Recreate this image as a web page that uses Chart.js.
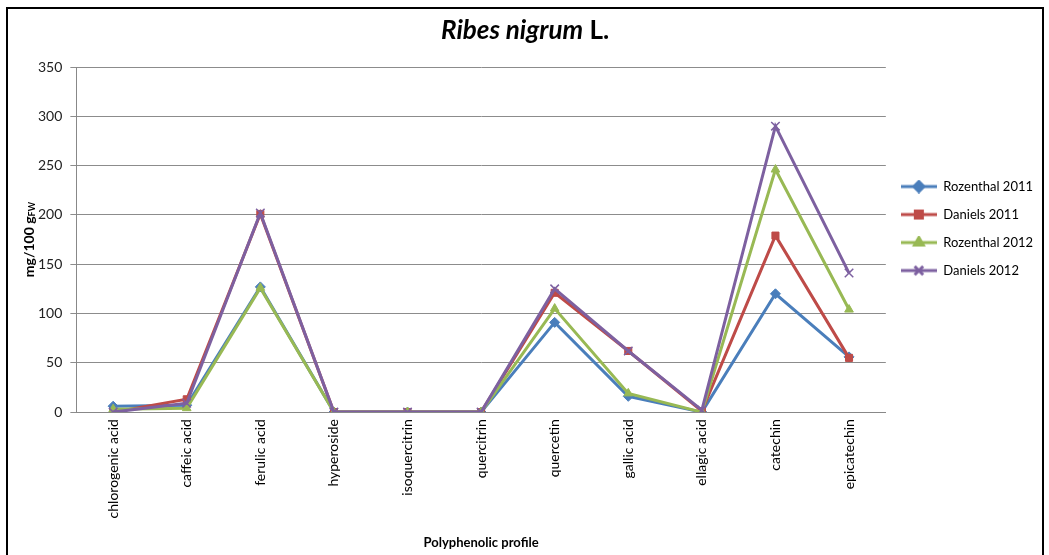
<!DOCTYPE html>
<html>
<head>
<meta charset="utf-8">
<script src="https://cdn.jsdelivr.net/npm/chart.js@4/dist/chart.umd.min.js"></script>
<style>
  html, body { margin: 0; padding: 0; background: #fff; }
  #wrap { position: relative; width: 1049px; height: 555px; overflow: hidden; }
  #frame { position: absolute; left: 6px; top: 7px; width: 1038px; height: 560px; border: 2px solid #000; box-sizing: border-box; pointer-events: none; }
  canvas { position: absolute; left: 0; top: 0; }
</style>
</head>
<body>
<div id="wrap">
  <canvas id="chart" width="1049" height="555"></canvas>
  <div id="frame"></div>
</div>
<script>
// --- Data ---
const categories = ['chlorogenic acid', 'caffeic acid', 'ferulic acid', 'hyperoside', 'isoquercitrin',
  'quercitrin', 'quercetin', 'gallic acid', 'ellagic acid', 'catechin', 'epicatechin'];
const rozenthal2011 = [6, 7, 127, 0, 0, 0, 91, 16, 0, 120, 56];
const daniels2011 = [0, 13, 201, 0, 0, 0, 121, 62, 1, 179, 55];
const rozenthal2012 = [3, 4, 126, 0, 0, 0, 105, 19, 0, 246, 104];
const daniels2012 = [0, 9, 202, 0, 0, 0, 125, 62, 2, 290, 141];
const yTicks = [0, 50, 100, 150, 200, 250, 300, 350];

const FONT = 'Lato, "Open Sans", sans-serif';

// small legend swatch: line with marker in the middle
function legendSwatch(color, style) {
    const c = document.createElement('canvas');
    c.width = 36; c.height = 14;
    const ctx = c.getContext('2d');
    ctx.strokeStyle = color;
    ctx.fillStyle = color;
    ctx.lineWidth = 3;
    ctx.beginPath(); ctx.moveTo(0, 7); ctx.lineTo(36, 7); ctx.stroke();
    Chart.helpers.drawPoint(ctx, { pointStyle: style, radius: style === 'crossRot' ? 6 : 5, rotation: 0, borderWidth: 1.5 }, 18, 7);
    if (style !== 'crossRot') ctx.fill();
    return c;
}

function series(label, data, color, style, order) {
    return {
        label: label,
        data: data,
        borderColor: color,
        backgroundColor: color,
        borderWidth: 3,
        pointStyle: style,
        pointRadius: style === 'crossRot' ? 6 : 5,
        pointBorderWidth: style === 'crossRot' ? 1.5 : 1,
        pointBorderColor: color,
        pointBackgroundColor: color,
        tension: 0,
        order: order,
        swatch: legendSwatch(color, style)
    };
}

// --- Title + y-axis title with subscript, drawn as text ---
const textPlugin = {
    id: 'texts',
    afterLayout(chart) {
        // centre the legend on the upper part of the plot like the original
        const lg = chart.legend, area = chart.chartArea;
        if (lg) { lg.top = area.top; lg.bottom = area.bottom - 22; }
    },
    afterDraw(chart) {
        const ctx = chart.ctx;
        const area = chart.chartArea;
        ctx.save();
        ctx.fillStyle = '#000';
        ctx.textBaseline = 'middle';
        // title
        const italic = 'italic bold 26px ' + FONT;
        const bold = 'bold 26px ' + FONT;
        ctx.font = italic;
        const w1 = ctx.measureText('Ribes nigrum').width;
        ctx.font = bold;
        const w2 = ctx.measureText(' L.').width;
        const cx = (area.left + area.right) / 2 + 44;
        let x = cx - (w1 + w2) / 2;
        ctx.textAlign = 'left';
        ctx.font = italic;
        ctx.fillText('Ribes nigrum', x, 31);
        ctx.font = bold;
        ctx.fillText(' L.', x + w1, 31);

        // y axis title
        ctx.translate(area.left - 47, (area.top + area.bottom) / 2);
        ctx.rotate(-Math.PI / 2);
        ctx.font = 'bold 14px ' + FONT;
        const t1 = 'mg/100 g';
        const a = ctx.measureText(t1).width;
        ctx.font = 'bold 9px ' + FONT;
        const b = ctx.measureText('FW').width;
        let sx = -(a + b) / 2;
        ctx.font = 'bold 14px ' + FONT;
        ctx.fillText(t1, sx, 0);
        ctx.font = 'bold 9px ' + FONT;
        ctx.fillText('FW', sx + a, 3);
        ctx.restore();
    }
};

const ctx = document.getElementById('chart').getContext('2d');
new Chart(ctx, {
    type: 'line',
    data: {
        labels: categories,
        datasets: [
            series('Rozenthal 2011', rozenthal2011, '#4A7EBB', 'rectRot', 4),
            series('Daniels 2011', daniels2011, '#BE4B48', 'rect', 3),
            series('Rozenthal 2012', rozenthal2012, '#98B954', 'triangle', 2),
            series('Daniels 2012', daniels2012, '#7D60A0', 'crossRot', 1)
        ]
    },
    options: {
        responsive: false,
        animation: false,
        layout: { padding: { top: 67, left: 30, right: 6, bottom: 4 } },
        plugins: {
            tooltip: { enabled: false },
            legend: {
                position: 'right',
                labels: {
                    usePointStyle: true,
                    pointStyleWidth: 36,
                    padding: 15,
                    color: '#000',
                    font: { family: FONT, size: 13 },
                    generateLabels(chart) {
                        return chart.data.datasets.map((ds, i) => ({
                            text: ds.label,
                            pointStyle: ds.swatch,
                            fillStyle: ds.borderColor,
                            strokeStyle: ds.borderColor,
                            lineWidth: 0,
                            hidden: false,
                            datasetIndex: i,
                            fontColor: '#000'
                        }));
                    }
                }
            }
        },
        scales: {
            x: {
                offset: true,
                grid: { display: false, drawTicks: false },
                border: { color: '#888', width: 1 },
                ticks: {
                    autoSkip: false,
                    minRotation: 90,
                    maxRotation: 90,
                    padding: 7,
                    color: '#000',
                    font: { family: FONT, size: 14 }
                },
                title: {
                    display: true,
                    text: 'Polyphenolic profile',
                    color: '#000',
                    font: { family: FONT, size: 13, weight: 'bold' },
                    padding: { top: 10, bottom: 0 }
                }
            },
            y: {
                min: 0,
                max: 350,
                afterBuildTicks(axis) { axis.ticks = yTicks.map(v => ({ value: v })); },
                grid: { color: '#8c8c8c', lineWidth: 1, tickLength: 6 },
                border: { color: '#888', width: 1 },
                ticks: {
                    padding: 8,
                    color: '#222',
                    font: { family: FONT, size: 14 }
                }
            }
        }
    },
    plugins: [textPlugin]
});
</script>
</body>
</html>
